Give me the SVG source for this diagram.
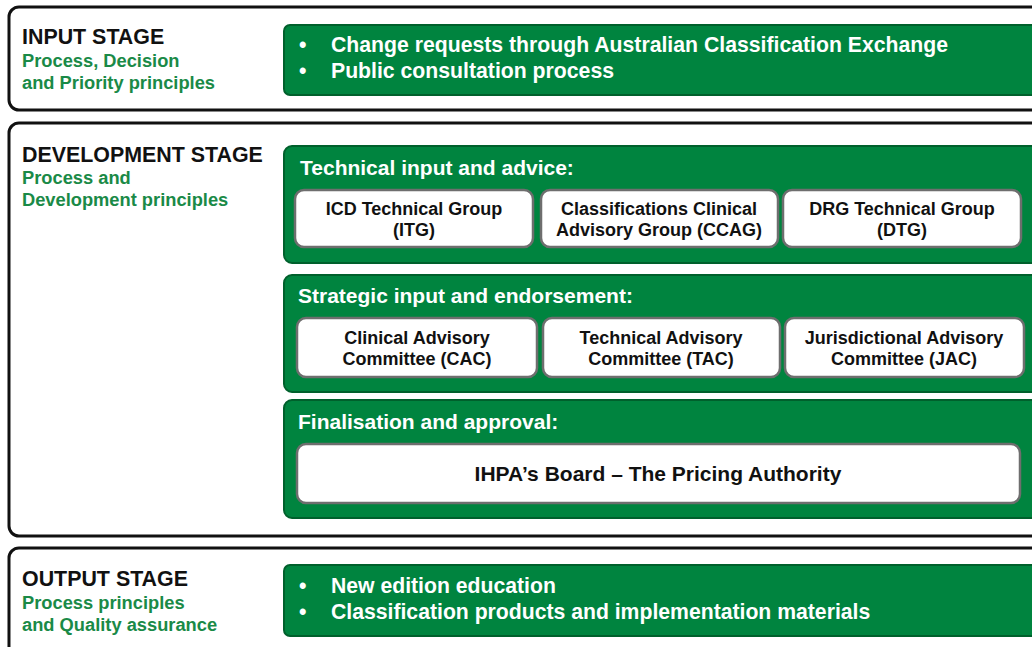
<svg xmlns="http://www.w3.org/2000/svg" width="1032" height="647" viewBox="0 0 1032 647">
  <style>
    .stage { fill: #ffffff; stroke: #111111; stroke-width: 3; }
    .panel { fill: #00843f; stroke: #00602c; stroke-width: 2; }
    .card { fill: #ffffff; stroke: #6e6e6e; stroke-width: 2.5; }
    text { font-family: "Liberation Sans", Arial, sans-serif; font-weight: bold; }
    .title { font-size: 21.4px; fill: #111111; }
    .sub { font-size: 18.3px; fill: #1a8a47; }
    .head { font-size: 21px; fill: #ffffff; }
    .bullet { font-size: 21.2px; fill: #ffffff; }
    .card-text { font-size: 18px; fill: #111111; text-anchor: middle; }
  </style>
  <rect width="1032" height="647" fill="#ffffff"/>

  <!-- Input stage -->
  <g id="input-stage">
    <rect class="stage" x="9" y="7" width="1040" height="103" rx="10"/>
    <text class="title" x="22" y="44">INPUT STAGE</text>
    <text class="sub" x="22" y="67">Process, Decision</text>
    <text class="sub" x="22" y="89">and Priority principles</text>
  </g>
  <g id="input-items">
    <rect class="panel" x="284" y="25" width="760" height="70" rx="6"/>
    <text class="bullet" x="299" y="52">•</text>
    <text class="bullet" x="331" y="52" textLength="617" lengthAdjust="spacingAndGlyphs">Change requests through Australian Classification Exchange</text>
    <text class="bullet" x="299" y="78">•</text>
    <text class="bullet" x="331" y="78" textLength="283" lengthAdjust="spacingAndGlyphs">Public consultation process</text>
  </g>

  <!-- Development stage -->
  <g id="development-stage">
    <rect class="stage" x="9" y="123" width="1040" height="413" rx="10"/>
    <text class="title" x="22" y="162">DEVELOPMENT STAGE</text>
    <text class="sub" x="22" y="184">Process and</text>
    <text class="sub" x="22" y="206">Development principles</text>
  </g>

  <g id="technical-input">
    <rect class="panel" x="284" y="146" width="760" height="117" rx="8"/>
    <text class="head" x="300" y="175">Technical input and advice:</text>
  </g>
  <g id="itg">
    <rect class="card" x="295" y="190" width="238" height="57" rx="9"/>
    <text class="card-text" x="414" y="215">ICD Technical Group</text>
    <text class="card-text" x="414" y="236">(ITG)</text>
  </g>
  <g id="ccag">
    <rect class="card" x="541" y="190" width="237" height="57" rx="9"/>
    <text class="card-text" x="659" y="215">Classifications Clinical</text>
    <text class="card-text" x="659" y="236">Advisory Group (CCAG)</text>
  </g>
  <g id="dtg">
    <rect class="card" x="783" y="190" width="238" height="57" rx="9"/>
    <text class="card-text" x="902" y="215">DRG Technical Group</text>
    <text class="card-text" x="902" y="236">(DTG)</text>
  </g>

  <g id="strategic-input">
    <rect class="panel" x="284" y="275" width="760" height="117" rx="8"/>
    <text class="head" x="298" y="303">Strategic input and endorsement:</text>
  </g>
  <g id="cac">
    <rect class="card" x="297" y="318" width="240" height="59" rx="9"/>
    <text class="card-text" x="417" y="344">Clinical Advisory</text>
    <text class="card-text" x="417" y="365">Committee (CAC)</text>
  </g>
  <g id="tac">
    <rect class="card" x="543" y="318" width="237" height="59" rx="9"/>
    <text class="card-text" x="661" y="344">Technical Advisory</text>
    <text class="card-text" x="661" y="365">Committee (TAC)</text>
  </g>
  <g id="jac">
    <rect class="card" x="785" y="318" width="239" height="59" rx="9"/>
    <text class="card-text" x="904" y="344">Jurisdictional Advisory</text>
    <text class="card-text" x="904" y="365">Committee (JAC)</text>
  </g>

  <g id="finalisation">
    <rect class="panel" x="284" y="400" width="760" height="118" rx="8"/>
    <text class="head" x="298" y="429">Finalisation and approval:</text>
  </g>
  <g id="ihpa-board">
    <rect class="card" x="297" y="444" width="723" height="59" rx="9"/>
    <text class="card-text" x="658" y="481" style="font-size:21px">IHPA’s Board – The Pricing Authority</text>
  </g>

  <!-- Output stage -->
  <g id="output-stage">
    <rect class="stage" x="9" y="548" width="1040" height="120" rx="10"/>
    <text class="title" x="22" y="586">OUTPUT STAGE</text>
    <text class="sub" x="22" y="609">Process principles</text>
    <text class="sub" x="22" y="631">and Quality assurance</text>
  </g>
  <g id="output-items">
    <rect class="panel" x="284" y="565" width="760" height="71" rx="6"/>
    <text class="bullet" x="299" y="593">•</text>
    <text class="bullet" x="331" y="593">New edition education</text>
    <text class="bullet" x="299" y="619">•</text>
    <text class="bullet" x="331" y="619">Classification products and implementation materials</text>
  </g>

  <!-- no connectors are drawn between the stages -->
  <g id="connectors"/>
</svg>
